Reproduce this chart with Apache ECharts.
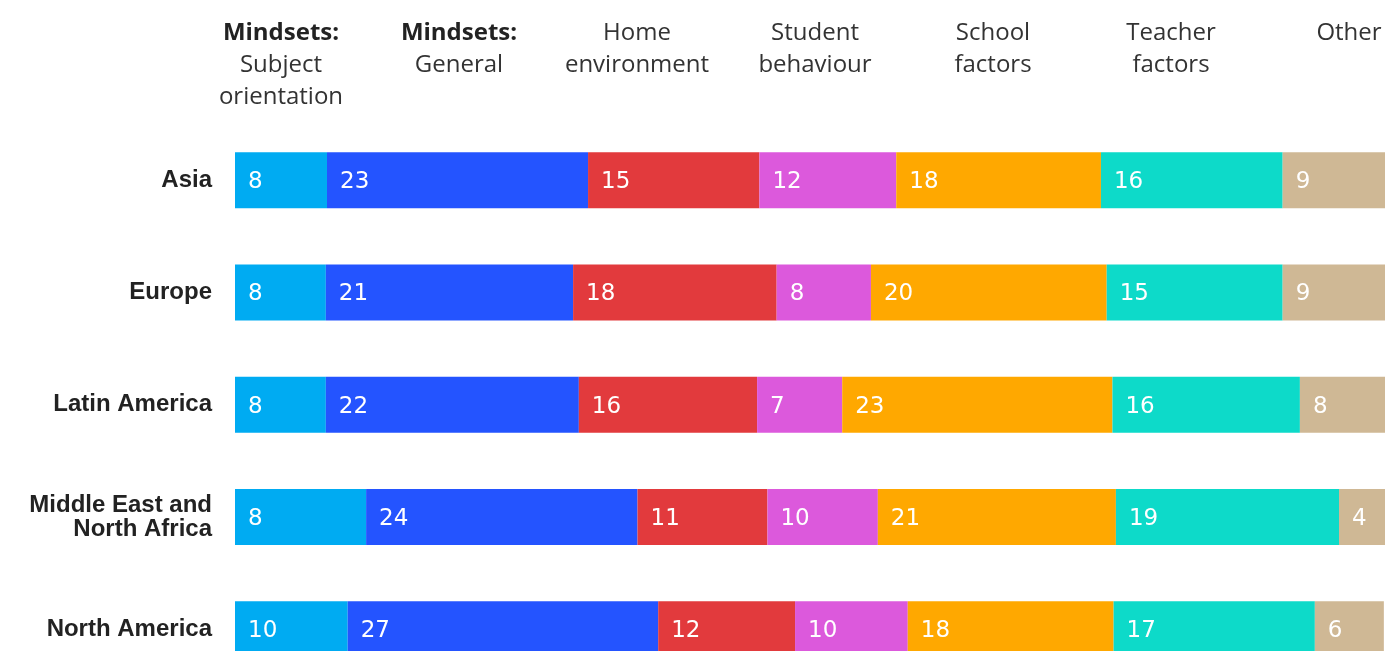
<!DOCTYPE html>
<html>
<head>
<meta charset="utf-8">
<script src="https://cdn.jsdelivr.net/npm/echarts@6/dist/echarts.min.js"></script>
<style>
  html, body { margin: 0; padding: 0; background: #fff; }
  #main { width: 1385px; height: 651px; }
</style>
</head>
<body>
<div id="main"></div>
<script>
// regions (rows)
var categories = ['Asia', 'Europe', 'Latin America', 'Middle East and\nNorth Africa', 'North America'];

// column headers
var seriesNames = ['Mindsets: Subject orientation', 'Mindsets: General', 'Home environment',
    'Student behaviour', 'School factors', 'Teacher factors', 'Other'];
var headerLines = [
    ['Mindsets:', 'Subject', 'orientation'],
    ['Mindsets:', 'General'],
    ['Home', 'environment'],
    ['Student', 'behaviour'],
    ['School', 'factors'],
    ['Teacher', 'factors'],
    ['Other']
];

// bar shares (%)
var subjectShare = [8.0, 7.9, 7.9, 11.4, 9.8];
var generalShare = [22.7, 21.5, 22.0, 23.6, 27.0];
var homeShare    = [14.9, 17.7, 15.5, 11.3, 11.9];
var studentShare = [11.9, 8.2, 7.4, 9.6, 9.8];
var schoolShare  = [17.8, 20.5, 23.5, 20.7, 17.9];
var teacherShare = [15.8, 15.3, 16.3, 19.4, 17.5];
var otherShare   = [8.9, 8.9, 7.5, 4.0, 6.0];

// numbers printed in the bars
var subjectLabel = [8, 8, 8, 8, 10];
var generalLabel = [23, 21, 22, 24, 27];
var homeLabel    = [15, 18, 16, 11, 12];
var studentLabel = [12, 8, 7, 10, 10];
var schoolLabel  = [18, 20, 23, 21, 18];
var teacherLabel = [16, 15, 16, 19, 17];
var otherLabel   = [9, 9, 8, 4, 6];

var shares = [subjectShare, generalShare, homeShare, studentShare, schoolShare, teacherShare, otherShare];
var printed = [subjectLabel, generalLabel, homeLabel, studentLabel, schoolLabel, teacherLabel, otherLabel];
var colors = ['#00abf2', '#2454ff', '#e23a3d', '#dc59dc', '#ffa800', '#0ddac9', '#cfb895'];

var myChart = echarts.init(document.getElementById('main'));

var series = shares.map(function (arr, i) {
    return {
        name: seriesNames[i],
        type: 'bar',
        stack: 'total',
        barWidth: 56,
        xAxisIndex: 0,
        yAxisIndex: 0,
        itemStyle: { color: colors[i] },
        label: {
            show: true,
            position: 'insideLeft',
            distance: 13,
            offset: [0, 2],
            color: '#fff',
            fontFamily: 'DejaVu Sans',
            fontSize: 23,
            formatter: function (p) { return printed[i][p.dataIndex]; }
        },
        data: arr
    };
});

var option = {
    backgroundColor: '#fff',
    animation: false,
    grid: [
        // bars (last row runs past the bottom edge)
        { left: 235, right: 0, top: 124, height: 561.5, outerBoundsMode: 'none' },
        // header row, evenly spaced columns
        { left: 192, top: 16, width: 1246, height: 1, outerBoundsMode: 'none' }
    ],
    xAxis: [
        { type: 'value', gridIndex: 0, min: 0, max: 100, show: false },
        {
            type: 'category',
            gridIndex: 1,
            data: seriesNames,
            axisLine: { show: false },
            axisTick: { show: false },
            splitLine: { show: false },
            axisLabel: {
                interval: 0,
                margin: 0,
                verticalAlign: 'top',
                color: '#333',
                fontFamily: 'Open Sans',
                fontSize: 24,
                lineHeight: 32,
                formatter: function (v, idx) {
                    return headerLines[idx].map(function (s) {
                        return s.indexOf('Mindsets') === 0 ? '{b|' + s + '}' : '{r|' + s + '}';
                    }).join('\n');
                },
                rich: {
                    b: { fontWeight: 'bold', color: '#222', fontFamily: 'Open Sans', fontSize: 24, lineHeight: 32 },
                    r: { color: '#333', fontFamily: 'Open Sans', fontSize: 24, lineHeight: 32 }
                }
            }
        }
    ],
    yAxis: [
        {
            type: 'category',
            gridIndex: 0,
            inverse: true,
            data: categories,
            axisLine: { show: false },
            axisTick: { show: false },
            axisLabel: {
                margin: 23,
                color: '#222',
                fontFamily: 'Liberation Sans',
                fontWeight: 'bold',
                fontSize: 24,
                lineHeight: 24
            }
        },
        { type: 'value', gridIndex: 1, show: false }
    ],
    series: series
};

myChart.setOption(option);
window.onresize = function () { myChart.resize(); };
</script>
</body>
</html>
